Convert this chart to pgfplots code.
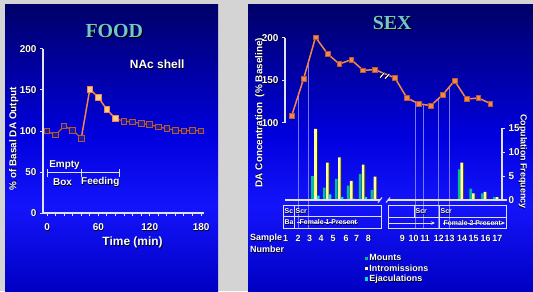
\documentclass[border=0pt]{standalone}
\usepackage{pgfplots}
\pgfplotsset{compat=1.18}
\usepackage{fontspec}
\setmainfont{Liberation Sans}
\newfontfamily\tms{Liberation Serif}
\usetikzlibrary{arrows.meta}
\definecolor{bggray}{RGB}{212,212,212}
\definecolor{ctop}{RGB}{0,0,105}
\definecolor{cmid}{RGB}{0,0,222}
\definecolor{cbright}{RGB}{20,20,252}
\definecolor{cbot}{RGB}{0,0,195}
\definecolor{titlec}{RGB}{115,200,200}
\definecolor{orng}{RGB}{242,135,72}
\definecolor{orngdk}{RGB}{185,88,52}
\definecolor{peach}{RGB}{255,200,140}
\definecolor{openfill}{RGB}{25,25,170}
\definecolor{mountc}{RGB}{0,192,140}
\definecolor{introc}{RGB}{255,255,150}
\definecolor{ejacc}{RGB}{0,225,240}
\definecolor{phasec}{RGB}{120,120,255}
\definecolor{linec}{RGB}{225,225,235}
\pgfdeclareverticalshading{panelshade}{100bp}{color(0bp)=(cbot); color(25bp)=(cbot); color(40bp)=(cbright); color(52bp)=(cmid); color(75bp)=(ctop); color(100bp)=(ctop)}
\newcommand{\sh}[2][0.6pt]{\rlap{\kern#1\raisebox{-#1}{\textcolor{black}{#2}}}#2}
\newcommand{\fs}[1]{\bfseries\fontsize{#1}{#1}\selectfont}
\pgfplotsset{
  myaxis/.style={scale only axis, clip=false,
    axis line style={-, linec, line width=1.3bp},
    every outer x axis line/.append style={-},
    every outer y axis line/.append style={-},
    every inner x axis line/.append style={-},
    every inner y axis line/.append style={-},
    tick align=outside, major tick length=3bp, minor tick length=3bp,
    tick style={linec, line width=1bp},
    tick label style={font=\fs{10}, text=white}}
}
\begin{document}
\begin{tikzpicture}[x=1bp,y=1bp]
\fill[bggray] (0,0) rectangle (533,291);
\shade[shading=panelshade] (5,0) rectangle (218,286);
\shade[shading=panelshade] (248,0) rectangle (533,286);
% phase lines
\foreach \x/\y in {298.3/95, 308.3/60.4, 415/102, 423.3/104.6, 438.3/98, 449/86.6}
  \draw[phasec, line width=0.5bp] (\x,291-\y) -- (\x,291-228);
% titles
\node[font=\tms\bfseries\fontsize{20}{20}\selectfont, text=titlec] at (114.3,291-31.7) {\sh[1.2pt]{FOOD}};
\node[font=\tms\bfseries\fontsize{20}{20}\selectfont, text=titlec] at (392.2,291-23.3) {\sh[1.2pt]{SEX}};
% FOOD axis
\begin{axis}[at={(43bp,78bp)}, anchor=south west, width=161bp, height=164bp,
  xmin=-4.7, xmax=183.4, ymin=0, ymax=200,
  axis lines=left,
  xtick={0,60,120,180}, xticklabels={\sh{0},\sh{60},\sh{120},\sh{180}},
  minor xtick={10,20,...,170},
  ytick={0,50,100,150,200}, yticklabels={\sh{0},\sh{50},\sh{100},\sh{150},\sh{200}},
  myaxis, xticklabel style={yshift=-4bp}]
\addplot[orngdk, line width=1.3bp] coordinates {(0,100)(10,95)(20,106)(30,101)(40,91)};
\addplot[orng, line width=1.5bp] coordinates {(40,91)(50,151)(60,141)(70,126)(80,115)};
\addplot[orngdk, line width=1.3bp] coordinates {(80,115)(90,112)(100,111)(110,109)(120,108)(130,105)(140,103)(150,101)(160,100)(170,101)(180,100)};
\addplot[only marks, mark=square*, mark size=2.8bp, mark options={fill=openfill, draw=orngdk, line width=0.9bp}] coordinates {(0,100)(10,95)(20,106)(30,101)(40,91)(90,112)(100,111)(110,109)(120,108)(130,105)(140,103)(150,101)(160,100)(170,101)(180,100)};
\addplot[only marks, mark=square*, mark size=2.8bp, mark options={fill=peach, draw=orng, line width=0.8bp}] coordinates {(50,151)(60,141)(70,126)(80,115)};
\end{axis}
% FOOD annotations
\begin{scope}[linec, line width=1.5bp]
\draw (47.7,118.3) -- (119.3,118.3);
\draw (47.7,114) -- (47.7,122.5);
\draw (81.7,114) -- (81.7,122.5);
\draw (119.3,114) -- (119.3,122.5);
\end{scope}
\node[font=\fs{10}, text=white] at (64.5,291-165) {\sh{Empty}};
\node[font=\fs{10}, text=white] at (62.5,291-182.7) {\sh{Box}};
\node[font=\fs{10}, text=white] at (100.3,291-182.7) {\sh{Feeding}};
\node[font=\fs{12}, text=white] at (157.2,291-65) {\sh{NAc shell}};
\node[font=\fs{12}, text=white] at (132.6,291-243) {\sh{Time (min)}};
\node[font=\fs{10}, text=white, rotate=90] at (14,291-138.8) {\sh{\% of Basal DA Output}};
% SEX DA axis
\begin{axis}[at={(285bp,168bp)}, anchor=south west, width=217bp, height=85bp,
  xmin=0.437, xmax=18.67, ymin=100, ymax=200,
  axis x line=none, axis y line=left, xtick=\empty,
  ytick={100,150,200}, yticklabels={\sh{100},\sh{150},\sh{200}}, myaxis]
\addplot[orng, line width=1.5bp, mark=square*, mark size=2.4bp, mark options={fill=orng, draw=orngdk, line width=0.6bp}]
 coordinates {(1,108.6)(2,152)(3,200.8)(4,181.6)(5,169.4)(6,174.5)(7,162)(8,162.7)(9.68,153)(10.68,129.4)(11.68,122.7)(12.68,120.4)(13.68,133)(14.68,149.8)(15.68,128.2)(16.68,129.4)(17.68,123)};
\end{axis}
% DA line break
\draw[black, line width=2.2bp] (380,213.3) -- (384.3,218.3) (385,212.3) -- (389.3,217);
\draw[white, line width=1.1bp] (380,213.3) -- (384.3,218.3) (385,212.3) -- (389.3,217);
% SEX bar axis
\begin{axis}[at={(285bp,91bp)}, anchor=south west, width=217bp, height=71.7bp,
  xmin=0.437, xmax=18.67, ymin=0, ymax=15,
  axis x line=none, axis y line=right, xtick=\empty,
  ytick={0,5,10,15}, yticklabels={\sh{0},\sh{5},\sh{10},\sh{15}},
  bar width=0.22,
  legend style={at={(0.369,-0.746)}, anchor=north west, draw=none, fill=none,
    font=\fs{9}, text=white, inner sep=0pt, row sep=0.3bp, nodes={inner sep=1pt}},
  legend cell align=left,
  legend image code/.code={\fill[#1] (0bp,-1.6bp) rectangle (3.2bp,1.6bp);}, myaxis]
\addplot[ybar, fill=black!80, draw=none, forget plot] coordinates {(3.09,14.9)(4.09,7.8)(5.09,8.9)(6.09,4.0)(7.09,7.4)(8.09,4.9)(15.38,7.8)(16.35,1.4)(17.33,1.7)(18.34,0.6)};
\addplot[ybar, fill=mountc, draw=none] coordinates {(2.75,5.0)(3.75,2.6)(4.75,4.4)(5.75,3.0)(6.75,5.4)(7.75,2.1)(15.07,6.4)(16.04,2.4)(17.02,1.4)(18.03,0.6)};
\addplot[ybar, fill=introc, draw=none] coordinates {(3,14.9)(4,7.8)(5,8.9)(6,4.0)(7,7.4)(8,4.9)(15.29,7.8)(16.26,1.4)(17.24,1.7)(18.25,0.6)};
\addplot[ybar, fill=ejacc, draw=none] coordinates {(3.23,0.9)(4.23,1.2)(5.23,0.6)(6.23,0.3)(7.23,0.6)};
\legend{\sh{Mounts},\sh{Intromissions},\sh{Ejaculations}}
\end{axis}
% baseline with break
\draw[linec, line width=1.3bp] (285,91) -- (380,91) (388,91) -- (507,91);
\draw[linec, line width=1.1bp] (378,88.5) -- (382,93.5) (386,88.5) -- (390,93.5);
% boxes
\begin{scope}[linec, line width=1bp]
\draw (283,291-205) rectangle (381.7,291-228.3);
\draw (283,291-216.8) -- (381.7,291-216.8);
\draw (294,291-205) -- (294,291-228.3);
\draw (388,291-205.7) rectangle (506,291-228.3);
\draw (388,291-217.3) -- (506,291-217.3);
\draw (414.3,291-205.7) -- (414.3,291-217.3);
\draw (439.3,291-205.7) -- (439.3,291-228.3);
\draw[-{Stealth[length=4bp,width=3.5bp]}] (297,291-222.7) -- (358,291-222.7);
\draw[-{Stealth[length=4bp,width=3.5bp]}] (389,291-223) -- (435,291-223);
\draw[-{Stealth[length=4bp,width=3.5bp]}] (443,291-223) -- (505,291-223);
\end{scope}
\begin{scope}[every node/.style={font=\fs{7}, text=white, anchor=west, inner sep=0.5bp}]
\node at (284,291-211.5) {\sh[0.4pt]{Sc}};
\node at (295,291-211.5) {\sh[0.4pt]{Scr}};
\node at (284,291-222.7) {\sh[0.4pt]{Ba}};
\node at (299,291-222.7) {\sh[0.4pt]{Female 1 Present}};
\node at (415,291-211.5) {\sh[0.4pt]{Scr}};
\node at (440,291-211.5) {\sh[0.4pt]{Scr}};
\node at (443,291-223) {\sh[0.4pt]{Female 2 Present}};
\end{scope}
% sample numbers
\node[font=\fs{9}, text=white, anchor=west, inner sep=0pt] at (250,291-238.5) {\sh{Sample}};
\node[font=\fs{9}, text=white, anchor=west, inner sep=0pt] at (250,291-249.7) {\sh{Number}};
\foreach \n/\x in {1/285.7, 2/298, 3/309.5, 4/321, 5/333, 6/346, 7/356.5, 8/368.4, 9/402.4, 10/413.6, 11/425.2, 12/438.8, 13/449.7, 14/462, 15/473.5, 16/485.7, 17/497.3}
  \node[font=\fs{9}, text=white, inner sep=0pt] at (\x,291-238.5) {\sh{\n}};
% axis titles right panel
\node[rotate=90, font=\fs{10}, text=white] at (260,291-112.5) {\sh{DA Concentration\ \ (\% Baseline)}};
\node[rotate=-90, font=\fs{9}, text=white] at (522.7,291-161.5) {\sh{Copulation Frequency}};
\pgfresetboundingbox
\path[use as bounding box] (0,0) rectangle (533,291);
\end{tikzpicture}
\end{document}
